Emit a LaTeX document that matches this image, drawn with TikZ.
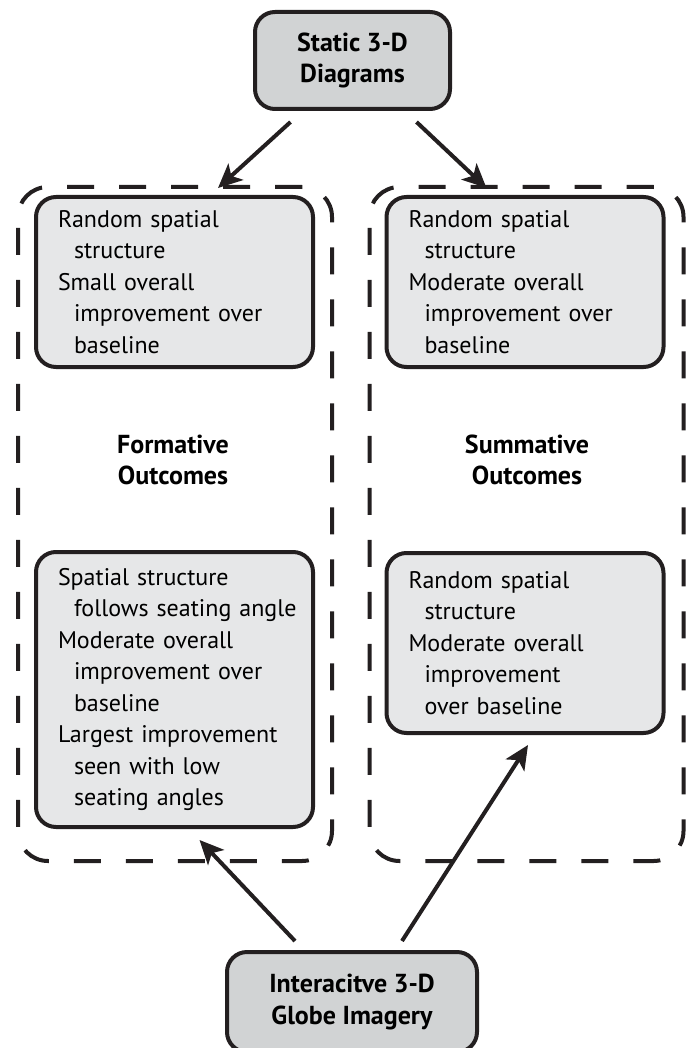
\documentclass[tikz,border=0pt]{standalone}
\usepackage{fontspec}
\setmainfont{PT Sans}
\usetikzlibrary{arrows.meta}
\definecolor{ink}{HTML}{231F20}
\definecolor{headgray}{HTML}{D1D3D4}
\definecolor{boxgray}{HTML}{E6E7E8}
\newcommand{\ind}{\hspace*{8pt}}

\begin{document}
\begin{tikzpicture}[x=0.5pt, y=-0.5pt,
  font=\fontsize{12}{15.75}\selectfont, >={Stealth[length=12pt, width=11pt, inset=3pt]},
  headbox/.style={draw=ink, line width=2pt, fill=headgray, rounded corners=10pt, align=center,
    font=\fontsize{13}{15.75}\selectfont\bfseries},
  outbox/.style={draw=ink, line width=2pt, dash pattern=on 13.5pt off 12.5pt, rounded corners=15pt,
    minimum width=157pt, minimum height=337pt},
  itembox/.style={draw=ink, line width=2pt, fill=boxgray, rounded corners=10pt,
    text width=127.5pt, inner xsep=5.5pt, align=left, execute at begin node={\leftskip=5.5pt}},
  outlabel/.style={align=center, font=\fontsize{13}{15.75}\selectfont\bfseries},
  arr/.style={->, draw=ink, line width=2pt},
]
\useasboundingbox (0,0) rectangle (696,1048);

% Outcome panels (dashed)
\node[outbox] (fout) at (175,524) {};
\node[outbox] (sout) at (526.5,524) {};
\node[outlabel] (flab) at (173,460) {Formative\\Outcomes};
\node[outlabel] (slab) at (527,460) {Summative\\Outcomes};

% Sources
\node[headbox, minimum width=97.5pt, minimum height=48.5pt] (static) at (352.5,60.5) {Static 3-D\\Diagrams};
\node[headbox, minimum width=125pt, minimum height=50pt] (globe) at (352,1002) {Interacitve 3-D\\Globe Imagery};

% Findings
\node[itembox, minimum height=85pt] (fstatic) at (174.5,282)
  {Random spatial\\\ind structure\\Small overall\\\ind improvement over\\\ind baseline};
\node[itembox, minimum height=85pt] (sstatic) at (525,282)
  {Random spatial\\\ind structure\\Moderate overall\\\ind improvement over\\\ind baseline};
\node[itembox, minimum height=137.5pt] (fglobe) at (174.5,689.5)
  {Spatial structure\\\ind\mbox{follows seating angle}\\Moderate overall\\\ind improvement over\\\ind baseline\\
   Largest improvement\\\ind seen with low\\\ind seating angles};
\node[itembox, minimum height=90pt] (sglobe) at (525,643)
  {Random spatial\\\ind structure\\Moderate overall\\\ind improvement\\\ind over baseline};

% Arrows
\draw[arr] ([xshift=-31pt, yshift=-5.5pt]static.south) -- ([xshift=21.5pt, yshift=-1.5pt]fout.north);
\draw[arr] ([xshift=32pt, yshift=-5.5pt]static.south) -- ([xshift=-20pt, yshift=-1.5pt]sout.north);
\draw[arr] ([xshift=-28.5pt, yshift=4.5pt]globe.north) -- ([xshift=12.5pt, yshift=-5.5pt]fglobe.south);
\draw[arr] ([xshift=25pt, yshift=4.5pt]globe.north) -- ([xshift=1.5pt, yshift=-5pt]sglobe.south);
\end{tikzpicture}
\end{document}
